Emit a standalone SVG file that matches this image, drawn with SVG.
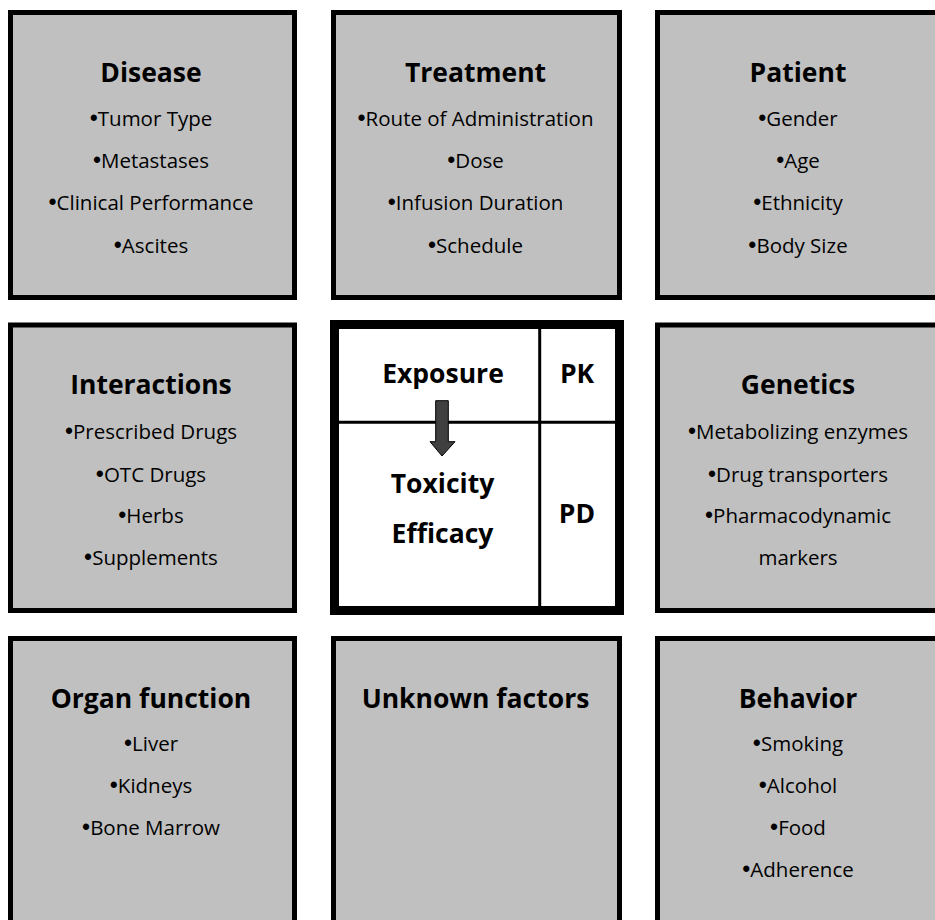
<svg xmlns="http://www.w3.org/2000/svg" width="935" height="920" viewBox="0 0 935 920">
<style>
.box{fill:#c0c0c0;stroke:#000;stroke-width:5}
.t{font-family:"Open Sans","Liberation Sans",sans-serif;font-weight:bold;font-size:26.5px;fill:#000;text-anchor:middle}
.b{font-family:"Open Sans","Liberation Sans",sans-serif;font-size:20.5px;fill:#000;text-anchor:middle}
.d{font-family:"Liberation Sans",sans-serif;font-size:23px}
.div{stroke:#000;stroke-width:3}
</style>
<rect width="935" height="920" fill="#fff"/>
<g id="disease">
<rect class="box" x="10.5" y="12.5" width="284" height="285"/>
<text class="t" x="151" y="81.7">Disease</text>
<text class="b" x="151" y="126"><tspan class="d">•</tspan>Tumor Type</text>
<text class="b" x="151" y="168"><tspan class="d">•</tspan>Metastases</text>
<text class="b" x="151" y="210"><tspan class="d">•</tspan>Clinical Performance</text>
<text class="b" x="151" y="252.5"><tspan class="d">•</tspan>Ascites</text>
</g>
<g id="treatment">
<rect class="box" x="333.5" y="12.5" width="286" height="285"/>
<text class="t" x="475.5" y="81.7">Treatment</text>
<text class="b" x="475.5" y="126"><tspan class="d">•</tspan>Route of Administration</text>
<text class="b" x="475.5" y="168"><tspan class="d">•</tspan>Dose</text>
<text class="b" x="475.5" y="210"><tspan class="d">•</tspan>Infusion Duration</text>
<text class="b" x="475.5" y="252.5"><tspan class="d">•</tspan>Schedule</text>
</g>
<g id="patient">
<rect class="box" x="657.5" y="12.5" width="284" height="285"/>
<text class="t" x="798" y="81.7">Patient</text>
<text class="b" x="798" y="126"><tspan class="d">•</tspan>Gender</text>
<text class="b" x="798" y="168"><tspan class="d">•</tspan>Age</text>
<text class="b" x="798" y="210"><tspan class="d">•</tspan>Ethnicity</text>
<text class="b" x="798" y="252.5"><tspan class="d">•</tspan>Body Size</text>
</g>
<g id="interactions">
<rect class="box" x="10.5" y="325" width="284" height="285.5"/>
<text class="t" x="151" y="394">Interactions</text>
<text class="b" x="151" y="439"><tspan class="d">•</tspan>Prescribed Drugs</text>
<text class="b" x="151" y="481.5"><tspan class="d">•</tspan>OTC Drugs</text>
<text class="b" x="151" y="523.3"><tspan class="d">•</tspan>Herbs</text>
<text class="b" x="151" y="565"><tspan class="d">•</tspan>Supplements</text>
</g>
<g id="center">
<rect x="334.5" y="324.5" width="285" height="286" fill="#fff" stroke="#000" stroke-width="9"/>
<line class="div" x1="539.7" y1="329" x2="539.7" y2="606"/>
<line class="div" x1="339" y1="422.3" x2="615" y2="422.3"/>
<text class="t" x="443" y="383.3">Exposure</text>
<text class="t" x="577" y="383.3">PK</text>
<text class="t" x="442.5" y="493.3">Toxicity</text>
<text class="t" x="442.5" y="543.3">Efficacy</text>
<text class="t" x="577" y="523.3">PD</text>
</g>
<g id="genetics">
<rect class="box" x="657.5" y="325" width="284" height="285.5"/>
<text class="t" x="798" y="394">Genetics</text>
<text class="b" x="798" y="439"><tspan class="d">•</tspan>Metabolizing enzymes</text>
<text class="b" x="798" y="481.5"><tspan class="d">•</tspan>Drug transporters</text>
<text class="b" x="798" y="523.3"><tspan class="d">•</tspan>Pharmacodynamic</text>
<text class="b" x="798" y="565">markers</text>
</g>
<g id="organ">
<rect class="box" x="10.5" y="638.5" width="284" height="285"/>
<text class="t" x="151" y="707.5">Organ function</text>
<text class="b" x="151" y="751"><tspan class="d">•</tspan>Liver</text>
<text class="b" x="151" y="793"><tspan class="d">•</tspan>Kidneys</text>
<text class="b" x="151" y="835"><tspan class="d">•</tspan>Bone Marrow</text>
</g>
<g id="unknown">
<rect class="box" x="333.5" y="638.5" width="286" height="285"/>
<text class="t" x="475.5" y="707.5">Unknown factors</text>
</g>
<g id="behavior">
<rect class="box" x="657.5" y="638.5" width="284" height="285"/>
<text class="t" x="798" y="707.5">Behavior</text>
<text class="b" x="798" y="751"><tspan class="d">•</tspan>Smoking</text>
<text class="b" x="798" y="793"><tspan class="d">•</tspan>Alcohol</text>
<text class="b" x="798" y="835"><tspan class="d">•</tspan>Food</text>
<text class="b" x="798" y="877"><tspan class="d">•</tspan>Adherence</text>
</g>
<g id="connectors">
<path d="M435.7,400.7 H448.3 V441.7 H455 L442,456 L430,441.7 H435.7 Z" fill="#404040" stroke="#000" stroke-width="1"/>
</g>
</svg>
